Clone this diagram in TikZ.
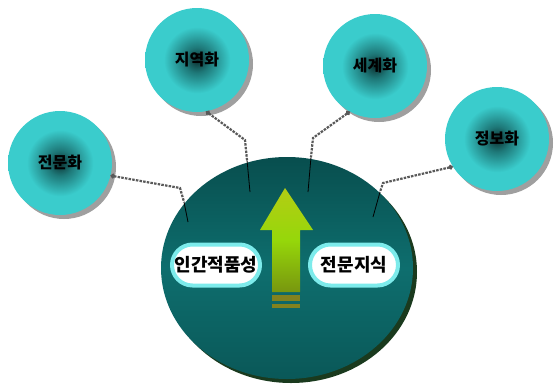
\documentclass[tikz,border=0pt]{standalone}
\usepackage{fontspec}
\newfontfamily\kr{Noto Sans CJK KR}
\usepackage{tikz}
\usetikzlibrary{shapes.geometric}
\usetikzlibrary{shapes.misc}
\usetikzlibrary{shadows}
\usetikzlibrary{arrows.meta}

\definecolor{ballcyan}{RGB}{58,204,204}
\definecolor{ballmid}{RGB}{30,120,120}
\definecolor{balldark}{RGB}{12,48,48}
\definecolor{hubtop}{RGB}{8,78,78}
\definecolor{hubmid}{RGB}{14,110,110}
\definecolor{hubbot}{RGB}{10,88,88}
\definecolor{hubrim}{RGB}{26,58,30}
\definecolor{pillrim}{RGB}{125,235,235}
\definecolor{arrowtop}{RGB}{180,205,20}
\definecolor{arrowmid}{RGB}{150,215,10}
\definecolor{arrowbot}{RGB}{120,150,15}
\definecolor{stripe}{RGB}{130,130,30}

\pgfdeclareradialshading{tealball}{\pgfpoint{0bp}{0bp}}{color(0bp)=(balldark); color(6bp)=(ballmid); color(16bp)=(ballcyan); color(50bp)=(ballcyan)}

\tikzset{
    ball/.style={circle, shading=tealball, minimum size=104, inner sep=0,
        drop shadow={shadow xshift=4pt, shadow yshift=-4pt, fill=gray!75, opacity=1},
        font=\kr\bfseries\fontsize{16}{16}\selectfont},
    hub/.style={ellipse, minimum width=252, minimum height=222, inner sep=0,
        top color=hubtop, bottom color=hubbot, middle color=hubmid,
        drop shadow={shadow xshift=4pt, shadow yshift=-4pt, fill=hubrim, opacity=1}},
    pill/.style={rounded rectangle, fill=white, draw=pillrim, line width=4pt,
        minimum width=88, minimum height=41, inner sep=0,
        font=\kr\bfseries\fontsize{18}{18}\selectfont},
    link/.style={draw=black!65, line width=2.2pt, dash pattern=on 2.5pt off 1.2pt,
        {Circle[length=4.5pt]}-},
    stem/.style={draw=black, line width=0.8pt}
}

\begin{document}
\begin{tikzpicture}[x=1pt, y=-1pt]
    \useasboundingbox (0,0) rectangle (554,383);

    \node[hub] (core) at (287,268) {};

    \node[ball] (jeonmun) at (60,163) {전문화};
    \node[ball] (jiyeok) at (197,60) {지역화};
    \node[ball] (segye) at (375,66) {세계화};
    \node[ball] (jeongbo) at (497,139) {정보화};

    % up arrow
    \shade[top color=arrowtop, bottom color=arrowbot, middle color=arrowmid]
        (285,188) -- (313,230) -- (300,230) -- (300,292) -- (272,292)
        -- (272,230) -- (260,230) -- cycle;
    \fill[stripe] (272,295) rectangle (300,301);
    \fill[stripe] (272,304) rectangle (300,308);

    \node[pill] (inseong) at (216,265) {인간적품성};
    \node[pill] (jisik) at (354,265) {전문지식};

    \coordinate (b1) at (180,188);
    \coordinate (c1) at (184,202);
    \coordinate (e1) at (188,222);
    \coordinate (b2) at (245,140);
    \coordinate (c2) at (247,160);
    \coordinate (e2) at (250,192);
    \coordinate (b3) at (313,138);
    \coordinate (c3) at (311,157);
    \coordinate (e3) at (308,192);
    \coordinate (b4) at (383,183);
    \coordinate (c4) at (380,192);
    \coordinate (e4) at (373,217);

    \draw[link] (jeonmun.-14) -- (b1) -- (c1);
    \draw[stem] (c1) -- (e1);
    \draw[link] (jiyeok.-80) -- (b2) -- (c2);
    \draw[stem] (c2) -- (e2);
    \draw[link] (segye.-119) -- (b3) -- (c3);
    \draw[stem] (c3) -- (e3);
    \draw[link] (jeongbo.-148) -- (b4) -- (c4);
    \draw[stem] (c4) -- (e4);
\end{tikzpicture}
\end{document}
